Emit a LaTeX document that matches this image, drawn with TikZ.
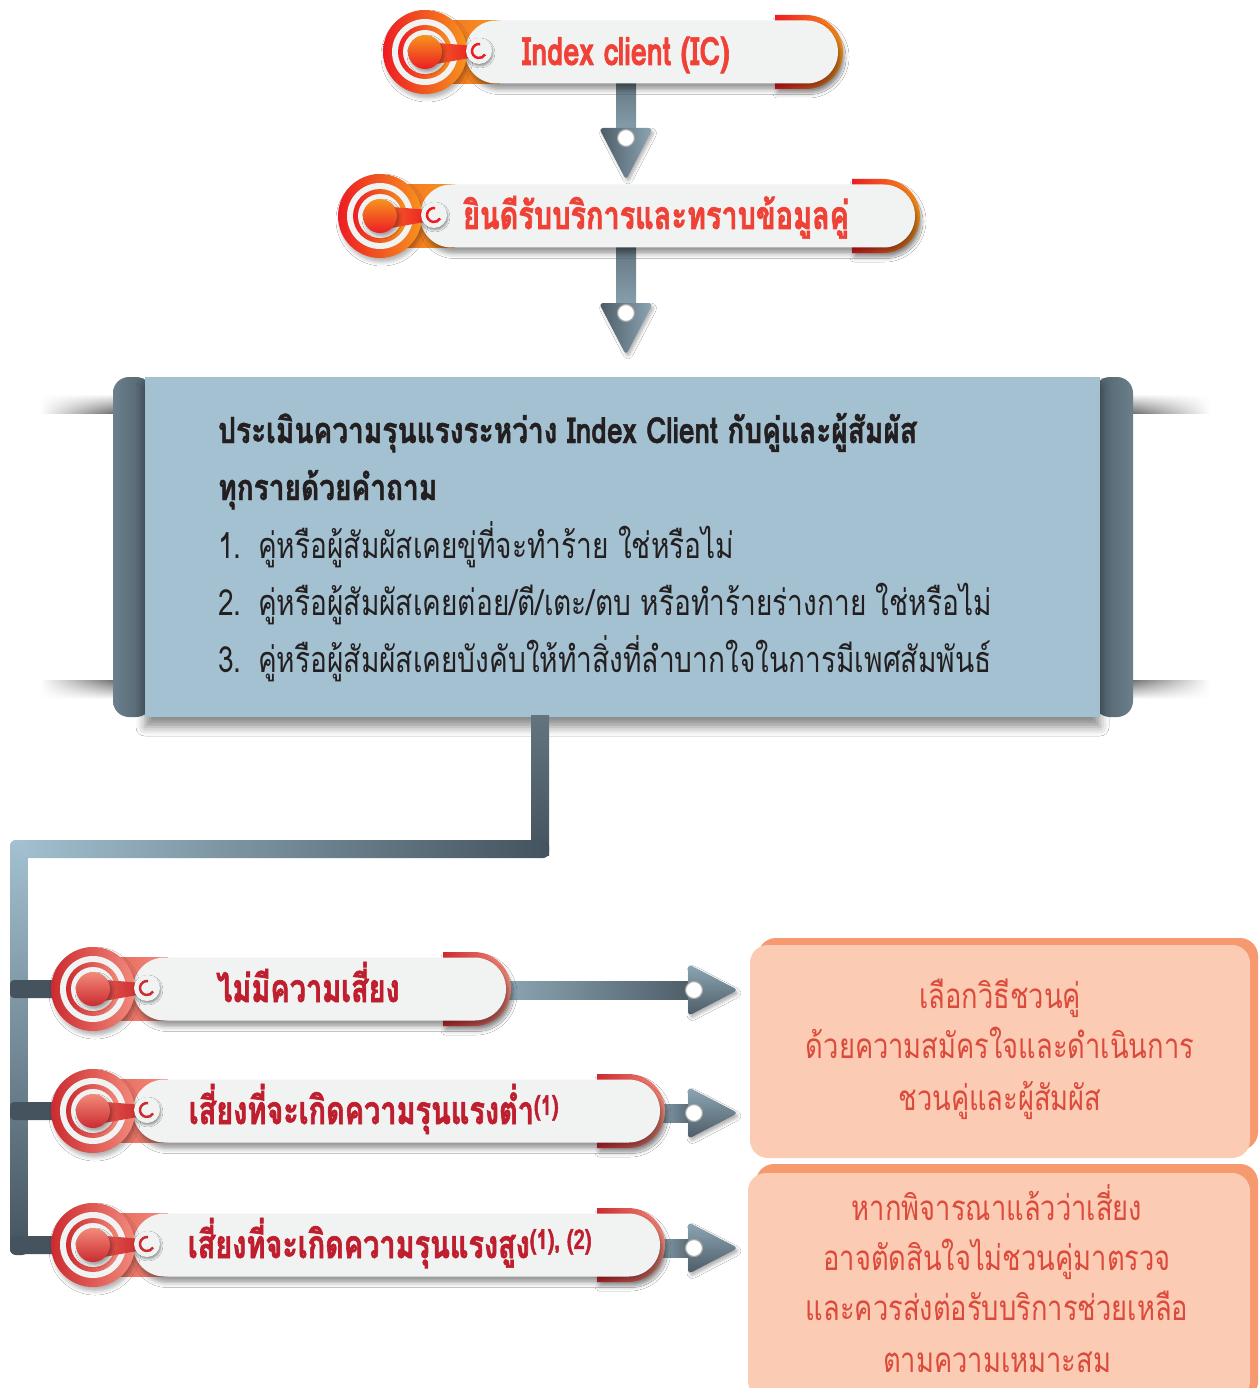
\documentclass[tikz,border=0pt]{standalone}
\usepackage{fontspec}
\newfontfamily\thai[Script=Thai,FakeStretch=0.78]{Loma}
\newfontfamily\thaiH[Script=Thai,FakeStretch=0.74,BoldFeatures={FakeBold=1.6}]{Loma}
\newfontfamily\thaiT[Script=Thai,FakeStretch=0.78,BoldFeatures={FakeBold=1.2}]{Loma}
\usetikzlibrary{shadows.blur,fadings,calc}
\definecolor{pl}{HTML}{F1F2F2}
\definecolor{boxblue}{HTML}{A3C1D1}
\definecolor{sbL}{HTML}{6B808C}
\definecolor{sbR}{HTML}{4E5F6A}
\definecolor{cdark}{HTML}{44535E}
\definecolor{cmid}{HTML}{62757F}
\definecolor{clight}{HTML}{A3C1D1}
\definecolor{adark}{HTML}{4C5B66}
\definecolor{alight}{HTML}{8DA7B5}
\definecolor{peach}{HTML}{FBCBB3}
\definecolor{peachdark}{HTML}{F6996E}
\definecolor{advtext}{HTML}{DC4A3C}
\definecolor{ink}{HTML}{231F20}
\definecolor{oL}{HTML}{ED1C24}
\definecolor{oR}{HTML}{F7941D}
\definecolor{oM}{HTML}{F26B28}
\definecolor{oT}{HTML}{EF4136}
\definecolor{rL}{HTML}{CC2B30}
\definecolor{rR}{HTML}{F28A7B}
\definecolor{rM}{HTML}{E35E52}
\definecolor{rT}{HTML}{BE1E2D}
\tikzfading[name=fadeL, left color=transparent!100, right color=transparent!0]
\tikzfading[name=fadeR, left color=transparent!0, right color=transparent!100]
\newcommand\pillfont{\thaiH\bfseries\fontsize{39}{40}\selectfont}
\newcommand\boxfontB{\thaiT\bfseries\fontsize{36}{40}\selectfont}
\newcommand\boxfont{\thai\fontsize{36}{40}\selectfont}
\newcommand\advfont{\thai\fontsize{35}{40}\selectfont}
% #1 name, #2 badge cx, #3 cy, #4 right x, #5 palette, #6 text centre x, #7 text
\newcommand{\mkpill}[7]{%
  \shade[left color=#5L, right color=#5R, blur shadow={shadow xshift=2pt, shadow yshift=-5pt, shadow blur radius=4pt, shadow opacity=30}]
     ({#4-63},{#3-37}) -- ({#4-32},{#3-37}) arc[start angle=-90, end angle=90, radius=37] -- ({#4-63},{#3+37}) -- cycle;
  \shade[left color=#5M, right color=#5R] ({#2},{#3-31.5}) rectangle ({#2+75},{#3+31.5});
  \node[pillbody, minimum width={#4-#2-40}] (#1) at ({(#4+#2+40)/2},{#3}) {};
  \shade[left color=#5L, right color=#5R, blur shadow={shadow xshift=2pt, shadow yshift=-4pt, shadow blur radius=4pt, shadow opacity=30}] (#2,#3) circle[radius=42];
  \fill[pl] (#2,#3) circle[radius=33];
  \shade[left color=#5L, right color=#5R] (#2,#3) circle[radius=27];
  \fill[pl] (#2,#3) circle[radius=22];
  \shade[left color=#5M, right color=#5L] ({#2},{#3-10}) -- ({#2+50},{#3-6}) -- ({#2+50},{#3+5}) -- ({#2},{#3+14}) -- cycle;
  \shade[top color=#5R, bottom color=#5L, blur shadow={shadow xshift=2pt, shadow yshift=-3pt, shadow blur radius=3pt, shadow opacity=35}] (#2,#3) circle[radius=17];
  \fill[pl, blur shadow={shadow xshift=1pt, shadow yshift=-2pt, shadow blur radius=2pt, shadow opacity=40}] ({#2+54},{#3-1}) circle[radius=13];
  \draw[#5L, line width=2.5pt] ({#2+54},{#3-1}) ++(-80:7) arc[start angle=-80, end angle=-330, radius=7];
  \node[anchor=base, text=#5T, font=\pillfont, inner sep=0] (#1-t) at (#6,{#3+13}) {#7};
}
% vertical arrow: #1 x, #2 from y, #3 tip y
\newcommand{\varrow}[3]{%
  \shade[top color=cmid, bottom color=alight] ({#1-10},#2) rectangle ({#1+10},{#3-40});
  \shade[left color=adark, right color=alight, rounded corners=4, blur shadow={shadow xshift=2pt, shadow yshift=-3pt, shadow blur radius=3pt, shadow opacity=30}] ({#1-27},{#3-52}) -- ({#1+27},{#3-52}) -- (#1,#3) -- cycle;
  \fill[white, draw=black!35, line width=1.2pt] (#1,{#3-42}) circle[radius=8.5];
}
% horizontal arrow: #1 from x, #2 y, #3 tip x
\newcommand{\harrow}[3]{%
  \shade[left color=alight, right color=adark] (#1,{#2-9}) rectangle ({#3-40},{#2+9});
  \shade[top color=alight, bottom color=adark, rounded corners=4, blur shadow={shadow xshift=2pt, shadow yshift=-3pt, shadow blur radius=3pt, shadow opacity=30}] ({#3-50},{#2-26}) -- (#3,#2) -- ({#3-50},{#2+26}) -- cycle;
  \fill[white, draw=black!35, line width=1.2pt] ({#3-44},#2) circle[radius=8.5];
}
\begin{document}
\begin{tikzpicture}[x=1pt,y=-1pt,
  pillbody/.style={fill=pl, rounded corners=31.5pt, minimum height=63, inner sep=0,
     blur shadow={shadow xshift=3pt, shadow yshift=-6pt, shadow blur radius=5pt, shadow opacity=40}},
  advback/.style={fill=peachdark, rounded corners=18pt},
  advbox/.style={fill=peach, rounded corners=18pt, inner sep=0},
  advline/.style={anchor=base, text=advtext, font=\advfont, inner sep=0},
  boxline/.style={anchor=base west, text=ink, inner sep=0}]
\useasboundingbox (0,0) rectangle (1258,1388);
\fill[white] (0,0) rectangle (1258,1388);

% ---- top pills and arrows
\varrow{626}{80}{180}
\mkpill{ic}{425}{52}{838}{o}{626}{Index client (IC)}
\varrow{626}{245}{355}
\mkpill{welcome}{380}{216}{915}{o}{656}{ยินดีรับบริการและทราบข้อมูลคู่}

% ---- scroll box
\shade[top color=white, bottom color=black!55, path fading=fadeL] (40,394) rectangle (113,413);
\shade[top color=black!55, bottom color=white, path fading=fadeL] (40,680) rectangle (113,699);
\shade[top color=white, bottom color=black!55, path fading=fadeR] (1133,394) rectangle (1210,413);
\shade[top color=black!55, bottom color=white, path fading=fadeR] (1133,680) rectangle (1210,699);
\shade[left color=sbL, right color=sbR, rounded corners=16pt] (113,377) rectangle (152,717);
\shade[left color=sbR, right color=sbL, rounded corners=16pt] (1094,377) rectangle (1133,717);
\node[fill=boxblue, minimum width=955, minimum height=340, inner sep=0,
  blur shadow={shadow xshift=0pt, shadow yshift=-10pt, shadow blur radius=9pt, shadow opacity=45}] (assess) at (622.5,547) {};
\node[boxline, font=\boxfontB] (l1) at (218,443) {ประเมินความรุนแรงระหว่าง Index Client กับคู่และผู้สัมผัส};
\node[boxline, font=\boxfontB] (l2) at (218,500) {ทุกรายด้วยคำถาม};
\node[boxline, font=\boxfont] (n1) at (218,558) {1.};
\node[boxline, font=\boxfont] (q1) at (258,558) {คู่หรือผู้สัมผัสเคยขู่ที่จะทำร้าย ใช่หรือไม่};
\node[boxline, font=\boxfont] (n2) at (218,615) {2.};
\node[boxline, font=\boxfont] (q2) at (258,615) {คู่หรือผู้สัมผัสเคยต่อย/ตี/เตะ/ตบ หรือทำร้ายร่างกาย ใช่หรือไม่};
\node[boxline, font=\boxfont] (n3) at (218,672) {3.};
\node[boxline, font=\boxfont] (q3) at (258,672) {คู่หรือผู้สัมผัสเคยบังคับให้ทำสิ่งที่ลำบากใจในการมีเพศสัมพันธ์};

% ---- connector from box
\coordinate (drop) at (540,717);
\coordinate (corner) at (19,849);
\shade[top color=cmid, bottom color=cdark] ($(drop)+(-9,-2)$) rectangle ($(drop)+(9,138)$);
\shade[left color=clight, right color=cdark, rounded corners=6pt] ($(corner)+(-9,-9)$) rectangle ($(drop)+(9,141)$);
\shade[top color=clight, bottom color=cdark, rounded corners=6pt] ($(corner)+(-9,-9)$) rectangle ($(corner)+(9,406)$);
\foreach \yy in {989,1111,1245}{
  \fill[cdark, rounded corners=4pt] ($(corner|-0,\yy)+(-9,-9)$) rectangle ($(corner|-0,\yy)+(45,9)$);
}

% ---- bottom pills
\harrow{500}{990}{738}
\mkpill{norisk}{93}{989}{506}{r}{308}{ไม่มีความเสี่ยง}
\harrow{655}{1113}{738}
\mkpill{low}{93}{1111}{660}{r}{374}{เสี่ยงที่จะเกิดความรุนแรงต่ำ\textsuperscript{(1)}}
\harrow{655}{1248}{738}
\mkpill{high}{93}{1245}{660}{r}{390}{เสี่ยงที่จะเกิดความรุนแรงสูง\textsuperscript{(1), (2)}}

% ---- advice boxes
\fill[advback] (758,938) rectangle (1258,1150);
\node[advbox, minimum width=500, minimum height=213] (adv1) at (1000,1051.5) {};
\node[advline] at (1000,1008) {เลือกวิธีชวนคู่};
\node[advline] at (1000,1058) {ด้วยความสมัครใจและดำเนินการ};
\node[advline] at (1000,1110) {ชวนคู่และผู้สัมผัส};
\fill[advback] (756,1164) rectangle (1258,1400);
\node[advbox, minimum width=502, minimum height=226] (adv2) at (999,1286) {};
\node[advline] at (997,1220) {หากพิจารณาแล้วว่าเสี่ยง};
\node[advline] at (997,1270) {อาจตัดสินใจไม่ชวนคู่มาตรวจ};
\node[advline] at (997,1320) {และควรส่งต่อรับบริการช่วยเหลือ};
\node[advline] at (997,1372) {ตามความเหมาะสม};
\end{tikzpicture}
\end{document}
